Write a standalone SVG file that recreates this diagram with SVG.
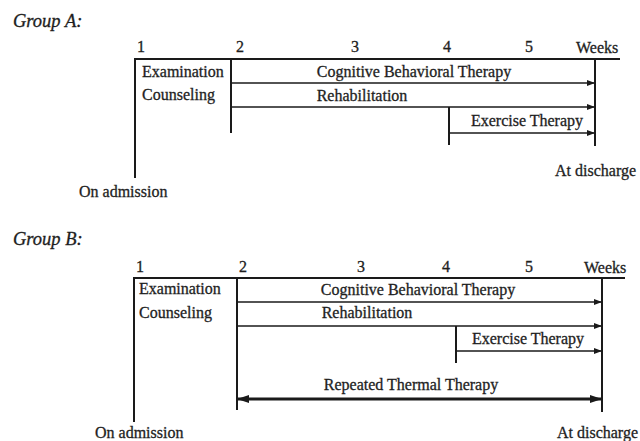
<svg xmlns="http://www.w3.org/2000/svg" width="640" height="441" viewBox="0 0 640 441">
<defs>
<marker id="ah" markerWidth="8" markerHeight="6" refX="7" refY="3" orient="auto" markerUnits="userSpaceOnUse"><path d="M0,0 L8,3 L0,6 Z" fill="#1a1a1a"/></marker>
<marker id="ahT" markerWidth="12" markerHeight="8" refX="11" refY="4" orient="auto-start-reverse" markerUnits="userSpaceOnUse"><path d="M0,0 L12,4 L0,8 Z" fill="#1a1a1a"/></marker>
<style>
text{font-family:"Liberation Serif","Times New Roman",serif;font-size:16px;fill:#1e1e1e;stroke:#1e1e1e;stroke-width:0.3}
.title{font-style:italic;font-size:18.5px}
.m{text-anchor:middle}
.e{text-anchor:end}
.ax{stroke:#1a1a1a;stroke-width:2;fill:none}
.v{stroke:#1a1a1a;stroke-width:2;fill:none}
.arr{stroke:#1a1a1a;stroke-width:1.5;fill:none;marker-end:url(#ah)}
.thick{stroke:#1a1a1a;stroke-width:3;fill:none;marker-end:url(#ahT);marker-start:url(#ahT)}
</style>
</defs>
<rect width="640" height="441" fill="#fff"/>

<g id="groupA">
<text class="title" x="13" y="27">Group A:</text>
<g id="A-axis">
<text class="m" x="141" y="52">1</text>
<text class="m" x="240" y="52">2</text>
<text class="m" x="355" y="52">3</text>
<text class="m" x="447" y="52">4</text>
<text class="m" x="529" y="52">5</text>
<text x="576" y="53">Weeks</text>
</g>
<g id="A-exam"><text x="142" y="77">Examination</text><text x="142" y="100">Counseling</text></g>
<g id="A-admission"><text x="79" y="197">On admission</text></g>
<g id="A-discharge"><text x="555" y="176">At discharge</text></g>
<g id="A-cbt"><text class="m" x="414" y="77">Cognitive Behavioral Therapy</text></g>
<g id="A-rehab"><text class="m" x="362" y="101">Rehabilitation</text></g>
<g id="A-ex"><text class="m" x="527" y="126">Exercise Therapy</text></g>
<g id="A-connectors">
<line class="ax" x1="134" y1="59" x2="620" y2="59"/>
<line class="v" x1="135" y1="58" x2="135" y2="178"/>
<line class="v" x1="231" y1="59" x2="231" y2="133"/>
<line class="v" x1="449" y1="107" x2="449" y2="145"/>
<line class="v" x1="595" y1="59" x2="595" y2="146"/>
<line class="arr" x1="231" y1="83" x2="594" y2="83"/>
<line class="arr" x1="231" y1="107" x2="594" y2="107"/>
<line class="arr" x1="449" y1="133" x2="594" y2="133"/>
</g>
</g>

<g id="groupB">
<text class="title" x="13" y="245">Group B:</text>
<g id="B-axis">
<text class="m" x="140" y="272">1</text>
<text class="m" x="243" y="272">2</text>
<text class="m" x="361" y="272">3</text>
<text class="m" x="446" y="272">4</text>
<text class="m" x="529" y="272">5</text>
<text x="584" y="273">Weeks</text>
</g>
<g id="B-exam"><text x="139" y="294">Examination</text><text x="139" y="318">Counseling</text></g>
<g id="B-admission"><text x="95" y="438">On admission</text></g>
<g id="B-discharge"><text class="e" x="638" y="438">At discharge</text></g>
<g id="B-cbt"><text class="m" x="418" y="295">Cognitive Behavioral Therapy</text></g>
<g id="B-rehab"><text class="m" x="367" y="318">Rehabilitation</text></g>
<g id="B-ex"><text class="m" x="528" y="344">Exercise Therapy</text></g>
<g id="B-thermal"><text class="m" x="411" y="390">Repeated Thermal Therapy</text></g>
<g id="B-connectors">
<line class="ax" x1="133" y1="278" x2="625" y2="278"/>
<line class="v" x1="134" y1="277" x2="134" y2="422"/>
<line class="v" x1="237" y1="278" x2="237" y2="410"/>
<line class="v" x1="456" y1="326" x2="456" y2="363"/>
<line class="v" x1="602" y1="278" x2="602" y2="412"/>
<line class="arr" x1="237" y1="302" x2="601" y2="302"/>
<line class="arr" x1="237" y1="326" x2="601" y2="326"/>
<line class="arr" x1="456" y1="351" x2="601" y2="351"/>
<line class="thick" x1="238" y1="399" x2="601" y2="399"/>
</g>
</g>
</svg>
